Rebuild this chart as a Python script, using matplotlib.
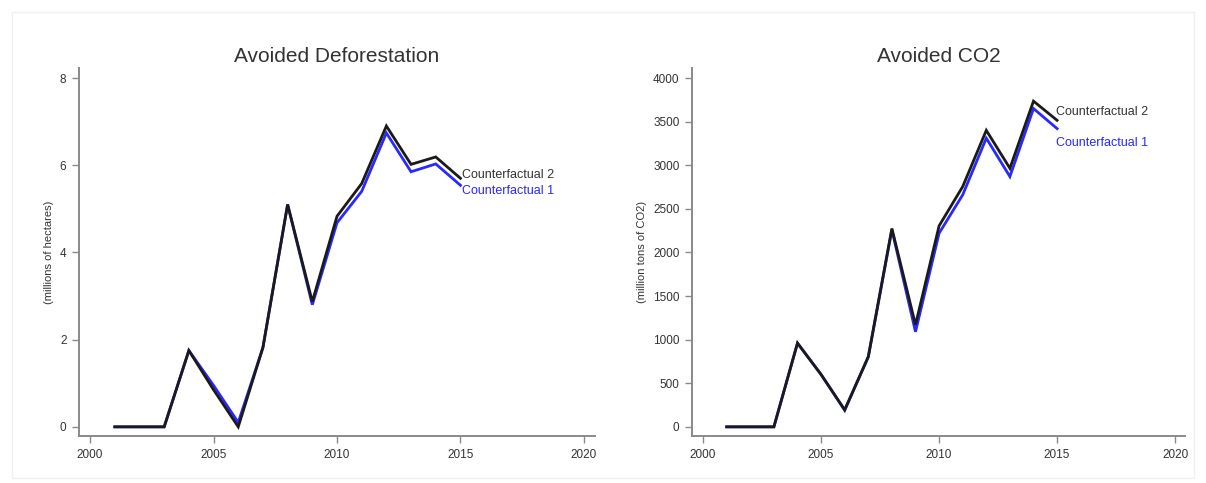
import matplotlib
matplotlib.use("Agg")
import matplotlib.pyplot as plt
from matplotlib.patches import Rectangle

plt.rcParams['font.family'] = ['Liberation Sans', 'DejaVu Sans']

years = [2001, 2002, 2003, 2004, 2005, 2006, 2007, 2008, 2009, 2010, 2011, 2012, 2013, 2014, 2015]

# Avoided deforestation, millions of hectares
defor_cf1 = [0, 0, 0, 1.75, 0.95, 0.10, 1.82, 5.10, 2.80, 4.68, 5.40, 6.74, 5.85, 6.03, 5.54]
defor_cf2 = [0, 0, 0, 1.75, 0.85, 0.00, 1.82, 5.10, 2.87, 4.83, 5.58, 6.90, 6.02, 6.19, 5.70]

# Avoided CO2, million tons
co2_cf1 = [0, 0, 0, 960, 600, 190, 800, 2260, 1090, 2220, 2660, 3310, 2870, 3650, 3420]
co2_cf2 = [0, 0, 0, 960, 600, 195, 805, 2275, 1170, 2305, 2755, 3400, 2965, 3735, 3515]

xticks = [2000, 2005, 2010, 2015, 2020]
defor_yticks = [0, 2, 4, 6, 8]
co2_yticks = [0, 500, 1000, 1500, 2000, 2500, 3000, 3500, 4000]

W, H = 1206, 483
fig = plt.figure(figsize=(W / 100, H / 100), dpi=100)
fig.patch.set_facecolor('white')
fig.add_artist(Rectangle((12 / W, 5 / H), (W - 24) / W, (H - 17) / H,
                         transform=fig.transFigure, fill=False,
                         edgecolor='#f0f0f0', linewidth=1.0))

blue = '#2828ff'
black = '#1a1a1a'
text_col = '#333333'
spine_col = '#8a8a8a'


def px_axes(x0, x1, y0, y1):
    return fig.add_axes([x0 / W, 1 - y1 / H, (x1 - x0) / W, (y1 - y0) / H])


def style(ax, title, ylabel, yticks):
    for s in ('top', 'right'):
        ax.spines[s].set_visible(False)
    for s in ('left', 'bottom'):
        ax.spines[s].set_color(spine_col)
        ax.spines[s].set_linewidth(1.4)
    ax.set_xticks(xticks)
    ax.set_yticks(yticks)
    ax.tick_params(colors=spine_col, labelcolor=text_col, labelsize=8.5,
                   length=5, width=1.0, pad=4)
    ax.set_title(title, fontsize=15, color=text_col, pad=4)
    ax.set_ylabel(ylabel, fontsize=8, color=text_col, labelpad=4)


# Left panel
ax1 = px_axes(79, 595, 68, 436)
ax1.plot(years, defor_cf1, color=blue, lw=2.0, solid_joinstyle='miter', zorder=2)
ax1.plot(years, defor_cf2, color=black, lw=2.0, solid_joinstyle='miter', zorder=3)
ax1.set_xlim(1999.55, 2020.45)
ax1.set_ylim(-0.21, 8.23)
style(ax1, 'Avoided Deforestation', '(millions of hectares)', defor_yticks)
ax1.text(years[-1] + 0.05, defor_cf2[-1] + 0.07, 'Counterfactual 2',
         color=text_col, fontsize=9, va='center', ha='left')
ax1.text(years[-1] + 0.05, defor_cf1[-1] - 0.12, 'Counterfactual 1',
         color=blue, fontsize=9, va='center', ha='left')

# Right panel
ax2 = px_axes(692, 1185, 68, 436)
ax2.plot(years, co2_cf1, color=blue, lw=2.0, solid_joinstyle='miter', zorder=2)
ax2.plot(years, co2_cf2, color=black, lw=2.0, solid_joinstyle='miter', zorder=3)
ax2.set_xlim(1999.53, 2020.42)
ax2.set_ylim(-105, 4115)
style(ax2, 'Avoided CO2', '(million tons of CO2)', co2_yticks)
ax2.text(years[-1] - 0.05, co2_cf2[-1] + 100, 'Counterfactual 2',
         color=text_col, fontsize=9, va='center', ha='left')
ax2.text(years[-1] - 0.05, co2_cf1[-1] - 165, 'Counterfactual 1',
         color=blue, fontsize=9, va='center', ha='left')

fig.savefig('out.png', dpi=100, facecolor='white')
